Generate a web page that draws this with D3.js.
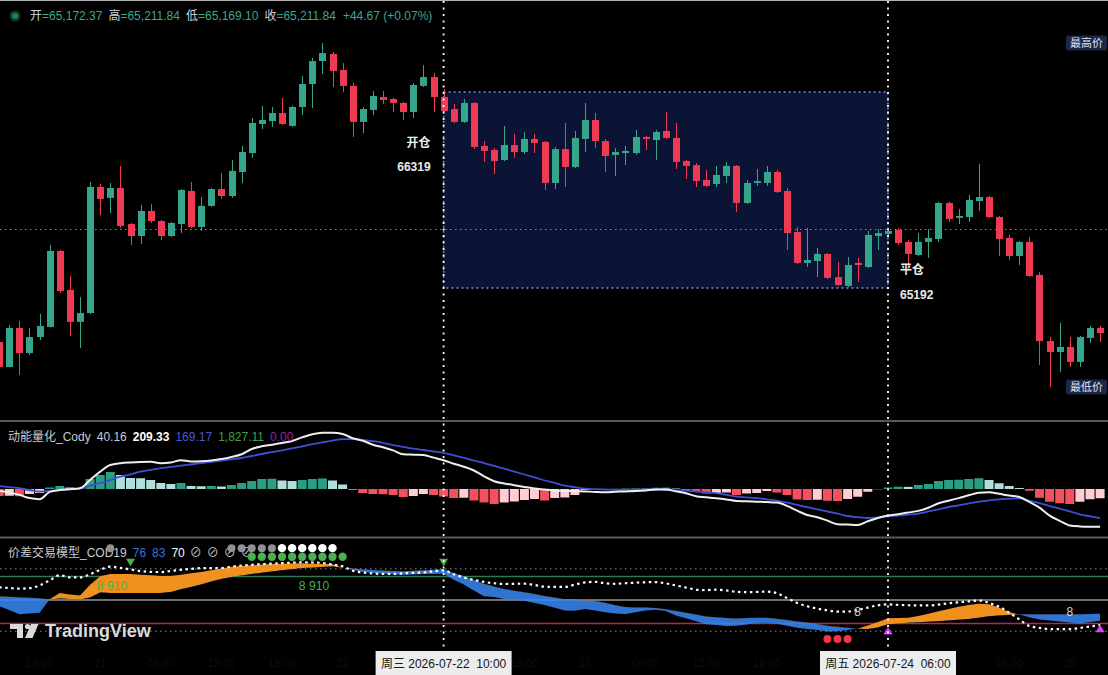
<!DOCTYPE html>
<html>
<head>
<meta charset="utf-8">
<script src="https://cdn.jsdelivr.net/npm/d3@7"></script>
<style>
  body { margin: 0; background: #000; }
  svg { display: block; }
  text { font-family: "Liberation Sans", "Noto Sans CJK SC", "DejaVu Sans", sans-serif; white-space: pre; }
</style>
</head>
<body>
<svg id="chart" width="1108" height="675"></svg>
<script>
// 1h candles, first bar = 2026-07-20 14:00
const opens = [
  64882, 64738, 64962, 64818, 64910, 64968, 65405, 65181, 64997, 65048,
  65773, 65710, 65767, 65560, 65491, 65635, 65577, 65491, 65560, 65750,
  65543, 65664, 65761, 65721, 65859, 65968, 66135, 66152, 66198, 66124,
  66233, 66365, 66497, 66538, 66446, 66354, 66147, 66216, 66290, 66279,
  66256, 66204, 66354, 66405, 66290, 66221, 66147, 66256, 66009, 65986,
  65928, 66014, 65974, 66049, 66032, 65796, 65991, 65888, 66049, 66158,
  66037, 65957, 65968, 65968, 66060, 66043, 66095, 66055, 65922, 65899,
  65813, 65790, 65836, 65894, 65681, 65796, 65796, 65859, 65750, 65514,
  65336, 65347, 65388, 65255, 65204, 65336, 65313, 65491, 65503, 65526,
  65457, 65382, 65457, 65474, 65681, 65595, 65600, 65692, 65715, 65600,
  65480, 65376, 65457, 65267, 64887, 64824, 64853, 64767, 64905, 64962
];
const highs = [
  64922, 64979, 65002, 64962, 65043, 65439, 65411, 65261, 65140, 65802,
  65790, 65796, 65894, 65566, 65669, 65675, 65583, 65572, 65761, 65802,
  65715, 65767, 65853, 65928, 66009, 66170, 66239, 66233, 66285, 66239,
  66411, 66515, 66601, 66549, 66486, 66371, 66233, 66325, 66325, 66285,
  66262, 66371, 66474, 66428, 66336, 66250, 66279, 66262, 66037, 65997,
  66124, 66078, 66089, 66078, 66037, 66003, 66141, 66095, 66256, 66198,
  66049, 65997, 66009, 66101, 66066, 66101, 66204, 66141, 65928, 65911,
  65871, 65894, 65917, 65899, 65813, 65876, 65894, 65871, 65767, 65543,
  65537, 65422, 65393, 65342, 65370, 65365, 65520, 65531, 65531, 65537,
  65468, 65508, 65531, 65687, 65687, 65646, 65727, 65905, 65721, 65606,
  65497, 65462, 65485, 65284, 64910, 64991, 64910, 64916, 64974, 64974
];
const lows = [
  64709, 64735, 64692, 64807, 64893, 64965, 65163, 64916, 64847, 65043,
  65612, 65623, 65537, 65439, 65445, 65566, 65468, 65485, 65508, 65537,
  65520, 65658, 65704, 65710, 65796, 65940, 66106, 66118, 66129, 66118,
  66187, 66227, 66423, 66348, 66319, 66060, 66083, 66187, 66250, 66204,
  66158, 66170, 66348, 66204, 66204, 66141, 66141, 65991, 65917, 65848,
  65922, 65940, 65963, 65968, 65756, 65761, 65773, 65882, 65974, 65997,
  65859, 65836, 65899, 65957, 65986, 65928, 66049, 65876, 65819, 65773,
  65773, 65773, 65796, 65629, 65675, 65779, 65779, 65738, 65411, 65330,
  65313, 65255, 65244, 65204, 65198, 65227, 65307, 65411, 65491, 65439,
  65313, 65376, 65365, 65457, 65572, 65560, 65572, 65635, 65595, 65376,
  65353, 65324, 65255, 64749, 64623, 64709, 64738, 64738, 64876, 64882
];
const closes = [
  64738, 64962, 64818, 64910, 64974, 65405, 65175, 64997, 65048, 65773,
  65704, 65767, 65549, 65491, 65635, 65577, 65491, 65566, 65756, 65543,
  65664, 65761, 65721, 65865, 65974, 66141, 66158, 66198, 66135, 66233,
  66365, 66497, 66543, 66440, 66354, 66147, 66221, 66296, 66273, 66256,
  66204, 66359, 66405, 66290, 66210, 66147, 66256, 66003, 65980, 65922,
  66014, 65974, 66049, 66026, 65796, 65991, 65888, 66055, 66158, 66037,
  65951, 65974, 65980, 66060, 66049, 66089, 66055, 65917, 65894, 65807,
  65779, 65842, 65894, 65681, 65796, 65807, 65859, 65744, 65508, 65336,
  65353, 65388, 65250, 65209, 65324, 65324, 65497, 65508, 65520, 65451,
  65388, 65457, 65480, 65681, 65589, 65606, 65698, 65715, 65600, 65474,
  65376, 65457, 65261, 64887, 64824, 64853, 64767, 64910, 64962, 64933
];

// 动能量化_Cody : fast line (white), slow line (blue), histogram
const momFast = [
  -8, -14.4, -23.6, -36.4, -40.8, -11.6, -4, -1.2, 2.8, 36.4,
  69.6, 96, 102.8, 106, 108, 108.8, 102.8, 106, 115.2, 110.4,
  111.2, 114, 119.6, 128, 139.2, 160, 170.8, 177.2, 184, 192,
  206.4, 218.8, 224.8, 225.2, 220, 203.2, 193.2, 177.2, 166.8, 154.4,
  138.8, 137.2, 136, 125.6, 115.2, 101.2, 89.2, 74, 50.8, 31.2,
  22.4, 15.2, 8.4, 2, -2, -6, -7.2, -8, -9.6, -11.6,
  -12.8, -11.2, -9.6, -8, -5.6, -2.4, -2, -9.2, -17.2, -29.2,
  -33.2, -37.2, -41.6, -48, -49.2, -50.8, -52.4, -54.4, -67.6, -86.8,
  -104, -112.8, -126.4, -140.8, -142.4, -144, -128.8, -116, -106.4, -100.8,
  -94.4, -87.6, -75.2, -56.8, -46.8, -36.4, -25.2, -14.8, -13.2, -19.2,
  -26.4, -32, -51.6, -74.8, -106.4, -127.2, -145.6, -149.6, -150.8, -150.8
];
const momSlow = [
  12, 7.6, 3.2, -4, -10.4, -8, -4.4, -0.8, 2.8, 12.8,
  23.2, 36.4, 49.6, 58.8, 69.6, 76.4, 83.2, 88.4, 93.6, 98.4,
  103.2, 108.8, 114, 118.8, 124, 132, 140, 147.2, 154.8, 162.8,
  170.8, 179.2, 186.8, 193.6, 199.2, 200, 196, 191.2, 184.8, 175.6,
  168.8, 161.2, 156, 150.4, 144.8, 134.8, 124.8, 114, 103.6, 92.4,
  81.6, 69.6, 58, 46.8, 34, 24.4, 13.6, 7.2, 1.2, -0.8,
  -2, -3.2, -3.6, -2.8, -2, -1.6, -3.6, -5.2, -6.8, -10,
  -13.2, -16.4, -23.6, -30.4, -33.6, -36.8, -41.2, -46.4, -54.4, -63.6,
  -72.8, -81.6, -90, -98.8, -108, -112.8, -116, -113.6, -109.6, -106.4,
  -102.8, -98.4, -89.2, -81.2, -72, -65.2, -57.6, -50.8, -45.6, -41.2,
  -39.2, -37.6, -47.2, -56.4, -68.4, -78.4, -89.6, -101.2, -109.2, -116.8
];
const momHist = [
  -28, -27, -29, -20, -16, 6, 12, 6, 2, 40,
  56, 68, 56, 44, 43, 36, 24, 20, 24, 12,
  11, 12, 10, 16, 24, 32, 40, 41, 34, 32,
  36, 40, 42, 34, 18, -4, -16, -20, -21, -24,
  -32, -28, -20, -24, -30, -36, -35, -46, -54, -60,
  -54, -50, -44, -40, -46, -36, -34, -24, -4, -2,
  -1, 1, 2, 2.5, 3, 5, 5.5, 2, -4, -8,
  -18, -16, -14, -24, -18, -16, -8, -14, -24, -42,
  -44, -43, -47, -48, -40, -31, -11, -1, 6, 9,
  8.5, 16, 20, 32, 36, 37, 40, 43, 36, 23,
  12, 4, -7, -35, -51, -57, -60, -51, -41, -37
];

// 价差交易模型_COD19 : two band edges and the dotted line
const spreadFast = [
  42.2, 37.1, 31.8, 32.8, 33.7, 50.9, 59.0, 57.0, 55.7, 69.7,
  80.3, 83.2, 83.2, 83.2, 82.5, 81.6, 80.8, 80.8, 82.5, 84.2,
  85.9, 88.2, 90.3, 92.7, 93.5, 94.4, 95.4, 96.1, 96.5, 96.8,
  97.0, 96.6, 96.2, 95.8, 91.6, 88.4, 86.3, 84.6, 83.7, 82.9,
  82.4, 82.8, 83.2, 83.4, 83.5, 76.1, 70.0, 62.2, 54.7, 53.8,
  51.3, 50.0, 49.0, 46.2, 43.5, 40.1, 36.6, 36.1, 38.6, 36.6,
  34.3, 32.7, 32.0, 34.2, 36.6, 37.6, 35.9, 30.0, 26.5, 22.9,
  19.0, 18.0, 16.8, 16.9, 18.7, 20.5, 20.8, 19.6, 17.1, 14.4,
  12.7, 11.4, 9.7, 9.8, 11.5, 13.4, 17.2, 21.8, 26.6, 27.0,
  27.3, 29.5, 32.5, 35.6, 38.6, 41.4, 43.7, 45.2, 44.4, 40.1,
  34.6, 31.4, 27.8, 25.1, 23.7, 22.3, 21.0, 19.9, 21.8, 23.5
];
const spreadSlow = [
  54.8, 54.2, 53.5, 52.9, 52.3, 50.6, 51.9, 51.3, 50.6, 53.2,
  59.5, 59.1, 59.1, 59.1, 59.1, 59.1, 59.1, 60.3, 63.7, 66.8,
  70.0, 73.7, 77.0, 79.6, 81.4, 83.4, 84.9, 86.6, 88.0, 89.4,
  90.9, 91.5, 92.2, 92.8, 91.3, 90.5, 89.5, 88.5, 87.8, 87.1,
  86.7, 87.5, 88.1, 88.7, 89.2, 84.7, 80.6, 75.6, 70.8, 67.2,
  64.2, 62.0, 60.0, 57.7, 55.2, 53.2, 51.1, 50.0, 49.2, 48.7,
  46.6, 43.4, 40.9, 40.5, 40.3, 39.7, 38.2, 35.9, 33.8, 31.5,
  28.9, 27.8, 26.8, 26.3, 26.8, 27.3, 27.1, 26.1, 24.3, 22.5,
  21.1, 19.1, 17.0, 15.7, 14.4, 13.2, 12.7, 14.7, 19.0, 20.0,
  20.9, 21.5, 22.2, 22.8, 23.7, 24.7, 25.7, 27.3, 29.1, 30.1,
  30.9, 31.6, 31.6, 31.6, 31.6, 31.6, 31.6, 31.6, 32.0, 32.4
];
const spreadDots = [
  66.2, 65.4, 64.6, 65.2, 68.7, 75.2, 81.8, 78.9, 78.9, 82.9,
  88.6, 92.8, 91.1, 89.2, 87.0, 86.1, 85.8, 87.3, 88.7, 89.9,
  90.8, 90.8, 91.0, 92.7, 94.2, 95.1, 95.9, 96.6, 97.2, 97.8,
  98.4, 98.1, 97.5, 95.4, 93.2, 87.5, 85.3, 84.0, 83.4, 83.4,
  84.2, 84.8, 85.4, 86.8, 88.0, 83.0, 78.9, 75.7, 73.2, 71.5,
  70.5, 70.8, 70.9, 69.2, 67.0, 66.7, 66.7, 69.7, 72.5, 73.3,
  71.5, 70.8, 71.5, 72.2, 72.7, 72.9, 71.4, 68.6, 65.9, 63.4,
  62.7, 63.2, 62.2, 60.5, 60.0, 60.3, 60.8, 58.7, 52.5, 46.2,
  42.0, 38.9, 36.8, 35.1, 35.2, 37.2, 40.3, 43.2, 44.3, 43.8,
  43.3, 43.0, 43.0, 44.1, 45.8, 47.1, 48.2, 49.4, 46.2, 41.3,
  33.7, 25.2, 16.7, 14.3, 12.7, 12.7, 12.7, 14.2, 16.0, 17.7
];
const spreadLevels = [90, 80, 50, 20, 10];

// signal markers of the spread panel
const sellArrowIdx = [13, 44];
const buyArrowIdx = [88, 109];
const buyArrowVal = [10.8, 13.9];
const redDotIdx = [82, 83, 84];
const greyDotIdx = [11, 23, 24, 25, 26, 27];
const whiteDotIdx = [28, 29, 30, 31, 32, 33];
const greenDotIdx = [25, 26, 27, 28, 29, 30, 31, 32, 33, 34];
const countIdx = [10, 11, 12, 30, 31, 32];
const countText = ["8", "9", "10", "8", "9", "10"];
const eightIdx = [85, 106];

// trade (开仓 -> 平仓) and crosshair
const tradeIdx = [44, 88];
const tradePrice = [66319, 65192];
const tradeLabel = ["开仓", "平仓"];
const crossPrice = 65531;
const crossLabels = ["周三 2026-07-22  10:00", "周五 2026-07-24  06:00"];

// faint time axis ticks (those under the crosshair boxes are hidden)
const tickIdx = [4, 10, 16, 22, 28, 34, 52, 58, 64, 70, 76, 100, 106];
const tickText = ["18:00", "21", "06:00", "12:00", "18:00", "22", "18:00", "23",
                  "06:00", "12:00", "18:00", "18:00", "25"];

// legends
const ohlcNames = ["开", "高", "低", "收"];
const ohlcValues = ["65,172.37", "65,211.84", "65,169.10", "65,211.84"];
const ohlcChange = "+44.67 (+0.07%)";
const momLegend = ["40.16", "209.33", "169.17", "1,827.11", "0.00"];
const spreadLegend = ["76", "83", "70"];

const UP = '#35a58b', DOWN = '#ee3a52';
const svg = d3.select('#chart');

const x = d3.scaleLinear().domain([0, 109]).range([-0.8, 1100.1]);
const yP = d3.scaleLinear().domain([64433, 66848]).range([420, 0]);
const yM = d3.scaleLinear().domain([-160, 240]).range([529, 429]);
const yS = d3.scaleLinear().domain([0, 100]).range([639, 561]);
const idx = d3.range(opens.length);

svg.append('rect').attr('width', 1108).attr('height', 675).attr('fill', '#000');

const defs = svg.append('defs');
defs.append('clipPath').attr('id', 'cPrice').append('rect').attr('x', 0).attr('y', 1).attr('width', 1108).attr('height', 419);
defs.append('clipPath').attr('id', 'cMom').append('rect').attr('x', 0).attr('y', 422).attr('width', 1108).attr('height', 114);
defs.append('clipPath').attr('id', 'cSpread').append('rect').attr('x', 0).attr('y', 539).attr('width', 1108).attr('height', 112);

// ---------- price pane ----------
const pricePane = svg.append('g').attr('clip-path', 'url(#cPrice)');

pricePane.append('rect')
  .attr('x', x(tradeIdx[0])).attr('y', yP(tradePrice[0]))
  .attr('width', x(tradeIdx[1]) - x(tradeIdx[0]))
  .attr('height', yP(tradePrice[1]) - yP(tradePrice[0]))
  .attr('fill', '#0b1434')
  .attr('stroke', '#7d8de3').attr('stroke-width', 1.5).attr('stroke-dasharray', '2,3');

pricePane.append('line')
  .attr('x1', 0).attr('x2', 1108).attr('y1', Math.round(yP(crossPrice)) + 0.5).attr('y2', Math.round(yP(crossPrice)) + 0.5)
  .attr('stroke', '#8a8a8a').attr('stroke-width', 1).attr('stroke-dasharray', '1.5,3.5');

const isUp = i => closes[i] >= opens[i];
pricePane.selectAll('line.wick').data(idx).join('line').attr('class', 'wick')
  .attr('x1', i => Math.round(x(i)) + 0.5).attr('x2', i => Math.round(x(i)) + 0.5)
  .attr('y1', i => yP(highs[i])).attr('y2', i => yP(lows[i]))
  .attr('stroke', i => isUp(i) ? UP : DOWN).attr('stroke-width', 1);

pricePane.selectAll('rect.body').data(idx).join('rect').attr('class', 'body')
  .attr('x', i => Math.round(x(i)) - 3)
  .attr('width', 7)
  .attr('y', i => yP(Math.max(opens[i], closes[i])))
  .attr('height', i => Math.max(1.2, Math.abs(yP(opens[i]) - yP(closes[i]))))
  .attr('fill', i => isUp(i) ? UP : DOWN);

// trade labels
pricePane.append('text').attr('x', x(tradeIdx[0]) - 13).attr('y', yP(tradePrice[0]) + 55)
  .attr('text-anchor', 'end').attr('fill', '#ececec').attr('font-size', 12).attr('font-weight', 600).text(tradeLabel[0]);
pricePane.append('text').attr('x', x(tradeIdx[0]) - 13).attr('y', yP(tradePrice[0]) + 79)
  .attr('text-anchor', 'end').attr('fill', '#ececec').attr('font-size', 12).attr('font-weight', 600).text(tradePrice[0]);
pricePane.append('text').attr('x', x(tradeIdx[1]) + 12).attr('y', yP(tradePrice[1]) - 14)
  .attr('fill', '#ececec').attr('font-size', 12).attr('font-weight', 600).text(tradeLabel[1]);
pricePane.append('text').attr('x', x(tradeIdx[1]) + 12).attr('y', yP(tradePrice[1]) + 11)
  .attr('fill', '#ececec').attr('font-size', 12).attr('font-weight', 600).text(tradePrice[1]);

// highest / lowest tags
[[d3.max(highs), '最高价'], [d3.min(lows), '最低价']].forEach(([p, t]) => {
  const g = pricePane.append('g').attr('transform', `translate(1066,${yP(p) - 7.5})`);
  g.append('rect').attr('width', 41).attr('height', 15).attr('rx', 2).attr('fill', '#1c2747');
  g.append('text').attr('x', 20.5).attr('y', 11.5).attr('text-anchor', 'middle')
    .attr('fill', '#dfe3f5').attr('font-size', 11).text(t);
});

// OHLC legend
svg.append('circle').attr('cx', 15).attr('cy', 16).attr('r', 5.5).attr('fill', '#0d3a2c');
svg.append('circle').attr('cx', 15).attr('cy', 16).attr('r', 3).attr('fill', '#2a7d5f');
const ohlc = svg.append('text').attr('x', 30).attr('y', 20).attr('font-size', 12);
ohlcNames.forEach((n, k) => {
  ohlc.append('tspan').attr('fill', '#d1d4dc').attr('dx', k ? 6 : 0).text(n);
  ohlc.append('tspan').attr('fill', '#3fa58c').text('=' + ohlcValues[k]);
});
ohlc.append('tspan').attr('fill', '#3fa58c').attr('dx', 7).text(ohlcChange);

// ---------- momentum pane ----------
const momPane = svg.append('g').attr('clip-path', 'url(#cMom)');
const histColor = (v, i) => {
  const p = i > 0 ? momHist[i - 1] : null;
  if (v >= 0) return (p === null || v > p) ? '#2a9d83' : '#b2dfdb';
  return (p === null || v < p) ? '#f4505f' : '#ffcdd2';
};
momPane.selectAll('rect.hist').data(momHist).join('rect').attr('class', 'hist')
  .attr('x', (d, i) => x(i) - 4.5).attr('width', 9)
  .attr('y', d => Math.min(yM(d), yM(0)))
  .attr('height', d => Math.abs(yM(d) - yM(0)))
  .attr('fill', histColor);

const momLine = arr => d3.line().x((d, i) => x(i)).y(d => yM(d)).curve(d3.curveMonotoneX)(arr);
momPane.append('path').attr('d', momLine(momSlow)).attr('fill', 'none').attr('stroke', '#3d4fd6').attr('stroke-width', 1.8);
momPane.append('path').attr('d', momLine(momFast)).attr('fill', 'none').attr('stroke', '#eeeeee').attr('stroke-width', 2);

const momLeg = svg.append('text').attr('x', 8).attr('y', 441).attr('font-size', 12);
momLeg.append('tspan').attr('fill', '#c8cad0').text('动能量化_Cody');
const momLegColors = ['#c8cad0', '#ffffff', '#4a58cf', '#43a047', '#8e24aa'];
momLegend.forEach((v, k) => momLeg.append('tspan').attr('dx', 6).attr('fill', momLegColors[k])
  .attr('font-weight', k === 1 ? 600 : 400).text(v));

// ---------- spread pane ----------
const spPane = svg.append('g').attr('clip-path', 'url(#cSpread)');
const levelStyle = {
  90: ['#8a8a8a', '1.5,3.5', 1], 80: ['#2b7a50', null, 1.5], 50: ['#9a9a9a', null, 1.5],
  20: ['#c2214f', null, 1.5], 10: ['#8a8a8a', '1.5,3.5', 1]
};
spreadLevels.forEach(l => {
  const [c, dash, w] = levelStyle[l];
  spPane.append('line').attr('x1', 0).attr('x2', 1108).attr('y1', yS(l)).attr('y2', yS(l))
    .attr('stroke', c).attr('stroke-width', w).attr('stroke-dasharray', dash);
});

const clipArea = (top) => d3.area().x((d, i) => x(i))
  .y0(top ? 530 : (d, i) => yS(spreadSlow[i]))
  .y1(top ? (d, i) => yS(spreadSlow[i]) : 660)(spreadSlow);
defs.append('clipPath').attr('id', 'cAbove').append('path').attr('d', clipArea(true));
defs.append('clipPath').attr('id', 'cBelow').append('path').attr('d', clipArea(false));

const band = d3.area().x((d, i) => x(i)).y0(d => yS(d)).y1((d, i) => yS(spreadSlow[i]))(spreadFast);
spPane.append('g').attr('clip-path', 'url(#cAbove)').append('path').attr('d', band).attr('fill', '#f0901e');
spPane.append('g').attr('clip-path', 'url(#cBelow)').append('path').attr('d', band).attr('fill', '#3584ee').attr('fill-opacity', 0.88);

spPane.append('path')
  .attr('d', d3.line().x((d, i) => x(i)).y(d => yS(d)).curve(d3.curveMonotoneX)(spreadDots))
  .attr('fill', 'none').attr('stroke', '#ffffff').attr('stroke-width', 2.2).attr('stroke-dasharray', '2.5,3.5');

spPane.selectAll('path.sell').data(sellArrowIdx).join('path').attr('class', 'sell')
  .attr('d', i => `M${x(i) - 4.5},${yS(103)} h9 l-4.5,7.5 z`).attr('fill', '#4caf50');
spPane.selectAll('path.buy').data(buyArrowIdx).join('path').attr('class', 'buy')
  .attr('d', (i, k) => `M${x(i) - 4.5},${yS(buyArrowVal[k]) + 4} h9 l-4.5,-7.5 z`).attr('fill', '#e040fb');
spPane.selectAll('circle.red').data(redDotIdx).join('circle').attr('class', 'red')
  .attr('cx', i => x(i)).attr('cy', yS(0)).attr('r', 4).attr('fill', '#f23645');
spPane.selectAll('text.cnt').data(countIdx).join('text').attr('class', 'cnt')
  .attr('x', i => x(i)).attr('y', yS(68.4) + 4).attr('text-anchor', 'middle')
  .attr('fill', '#4caf50').attr('font-size', 12).text((d, k) => countText[k]);
spPane.selectAll('text.eight').data(eightIdx).join('text').attr('class', 'eight')
  .attr('x', i => x(i)).attr('y', yS(34.2) + 4).attr('text-anchor', 'middle')
  .attr('fill', '#d0d0d0').attr('font-size', 12).text('8');

const spLeg = svg.append('text').attr('x', 8).attr('y', 557).attr('font-size', 12);
spLeg.append('tspan').attr('fill', '#c8cad0').text('价差交易模型_COD19');
const spLegColors = ['#3a6fe0', '#3a6fe0', '#ffffff'];
spreadLegend.forEach((v, k) => spLeg.append('tspan').attr('dx', 6).attr('fill', spLegColors[k]).text(v));
d3.range(4).forEach(() => spLeg.append('tspan').attr('dx', 5).attr('fill', '#c8cad0').text('⊘'));

svg.selectAll('circle.grey').data(greyDotIdx).join('circle').attr('class', 'grey')
  .attr('cx', i => x(i)).attr('cy', yS(116.5)).attr('r', 4).attr('fill', '#8f9196');
svg.selectAll('circle.white').data(whiteDotIdx).join('circle').attr('class', 'white')
  .attr('cx', i => x(i)).attr('cy', yS(116.5)).attr('r', 4.2).attr('fill', '#ffffff');
svg.selectAll('circle.green').data(greenDotIdx).join('circle').attr('class', 'green')
  .attr('cx', i => x(i)).attr('cy', yS(105.5)).attr('r', 4.2).attr('fill', '#4caf50');

// TradingView watermark
const wm = svg.append('g').attr('fill', '#dadada');
wm.append('path').attr('d', 'M10,624 h13 v14 h-6 v-9 h-7 z');
wm.append('circle').attr('cx', 27.5).attr('cy', 626.5).attr('r', 2.6);
wm.append('path').attr('d', 'M31,624 h7.5 l-6,14 h-7.5 z');
wm.append('text').attr('x', 45).attr('y', 637).attr('font-size', 18).attr('font-weight', 700).text('TradingView');

// ---------- separators, crosshair, time axis ----------
svg.append('line').attr('x1', 0).attr('x2', 1108).attr('y1', 0.5).attr('y2', 0.5).attr('stroke', '#b0b0b0');
[421, 537.5].forEach(y => svg.append('line').attr('x1', 0).attr('x2', 1108).attr('y1', y).attr('y2', y)
  .attr('stroke', '#5a5a5a').attr('stroke-width', 2));

svg.selectAll('text.tick').data(tickIdx).join('text').attr('class', 'tick')
  .attr('x', i => x(i)).attr('y', 667).attr('text-anchor', 'middle')
  .attr('fill', '#ffffff').attr('fill-opacity', 0.07).attr('font-size', 11).text((d, k) => tickText[k]);

svg.selectAll('line.vcross').data(tradeIdx).join('line').attr('class', 'vcross')
  .attr('x1', i => x(i)).attr('x2', i => x(i)).attr('y1', 1).attr('y2', 651)
  .attr('stroke', '#ffffff').attr('stroke-width', 1.8).attr('stroke-dasharray', '2,4.5');

tradeIdx.forEach((i, k) => {
  const g = svg.append('g').attr('transform', `translate(${x(i) - 68},651)`);
  g.append('rect').attr('width', 136).attr('height', 24).attr('fill', '#ececec');
  g.append('text').attr('x', 68).attr('y', 17).attr('text-anchor', 'middle')
    .attr('fill', '#131722').attr('font-size', 12).text(crossLabels[k]);
});
</script>
</body>
</html>
